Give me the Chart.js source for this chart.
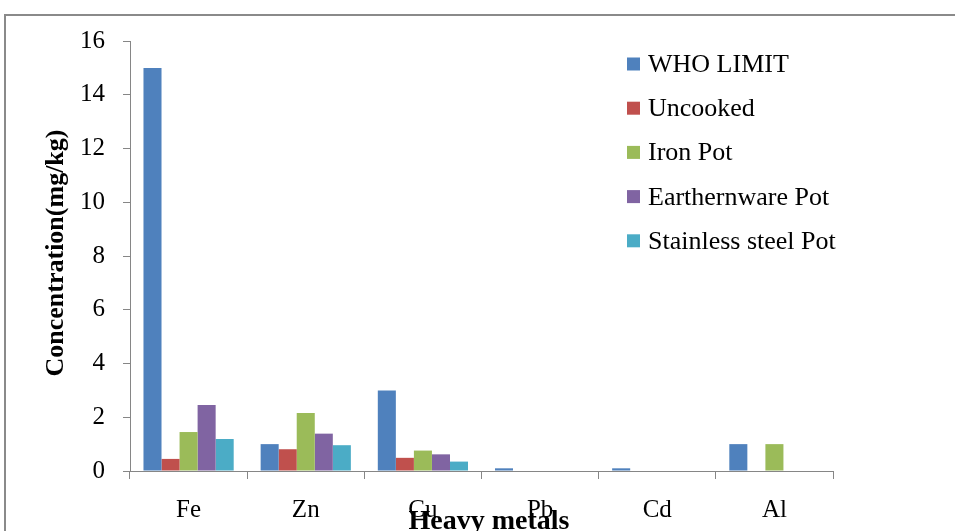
<!DOCTYPE html>
<html>
<head>
<meta charset="utf-8">
<script src="https://cdn.jsdelivr.net/npm/chart.js@4.4.0/dist/chart.umd.min.js"></script>
<style>
  html, body { margin: 0; padding: 0; background: #fff; }
  #wrap { width: 955px; height: 531px; position: relative; }
</style>
</head>
<body>
<div id="wrap"><canvas id="metalChart" width="955" height="531"></canvas></div>
<script>
// heavy metal concentrations (mg/kg)
const metals = ['Fe', 'Zn', 'Cu', 'Pb', 'Cd', 'Al'];
const whoLimit = [15, 1.0, 3.0, 0.1, 0.1, 1.0];
const uncooked = [0.45, 0.81, 0.49, 0, 0, 0];
const ironPot = [1.45, 2.16, 0.76, 0, 0, 1.0];
const earthenwarePot = [2.46, 1.39, 0.62, 0, 0, 0];
const stainlessPot = [1.19, 0.96, 0.35, 0, 0, 0];

const seriesNames = ['WHO LIMIT', 'Uncooked', 'Iron Pot', 'Earthernware Pot', 'Stainless steel Pot'];
const seriesColors = ['#4F81BD', '#C0504D', '#9BBB59', '#8064A2', '#4BACC6'];
const yMax = 16, yStep = 2;

const serif = "'Liberation Serif', 'Times New Roman', serif";
const axisGray = '#868686';

// frame, axis titles and the legend drawn over the plot
const decorPlugin = {
  id: 'decor',
  afterDraw(chart) {
    const ctx = chart.ctx;
    ctx.save();

    // outer frame (only top and left edges are in view)
    ctx.strokeStyle = '#8a8a8a';
    ctx.lineWidth = 2;
    ctx.beginPath();
    ctx.moveTo(5, 540);
    ctx.lineTo(5, 15);
    ctx.lineTo(960, 15);
    ctx.stroke();

    ctx.fillStyle = '#000';
    ctx.textAlign = 'center';
    ctx.textBaseline = 'alphabetic';

    // y axis title
    ctx.font = 'bold 26px ' + serif;
    ctx.save();
    ctx.translate(63, 253);
    ctx.rotate(-Math.PI / 2);
    ctx.fillText('Concentration(mg/kg)', 0, 0);
    ctx.restore();

    // x axis title, sits low and overlaps the category labels
    ctx.font = 'bold 28px ' + serif;
    ctx.fillText('Heavy metals', 489, 529);

    // legend
    ctx.font = '26px ' + serif;
    ctx.textAlign = 'left';
    chart.data.datasets.forEach((ds, i) => {
      const cy = 64 + i * 44.2;
      ctx.fillStyle = ds.backgroundColor;
      ctx.fillRect(627, cy - 6.5, 13, 13);
      ctx.fillStyle = '#000';
      ctx.fillText(ds.label, 648, cy + 8);
    });

    ctx.restore();
  }
};

const seriesData = [whoLimit, uncooked, ironPot, earthenwarePot, stainlessPot];

new Chart(document.getElementById('metalChart'), {
  type: 'bar',
  data: {
    labels: metals,
    datasets: seriesData.map((vals, i) => ({
      label: seriesNames[i],
      data: vals,
      backgroundColor: seriesColors[i],
      borderWidth: 0,
      categoryPercentage: 0.77,
      barPercentage: 1.0
    }))
  },
  options: {
    responsive: false,
    animation: false,
    devicePixelRatio: 1,
    layout: { padding: { left: 62, right: 122, top: 41, bottom: -10 } },
    plugins: {
      legend: { display: false },
      tooltip: { enabled: false }
    },
    scales: {
      x: {
        grid: {
          display: true,
          drawOnChartArea: false,
          drawTicks: true,
          tickLength: 8,
          color: axisGray,
          offset: true
        },
        border: { color: axisGray, width: 1 },
        ticks: {
          color: '#000',
          font: { family: serif, size: 25 },
          padding: 16,
          maxRotation: 0
        }
      },
      y: {
        min: 0,
        max: yMax,
        grid: {
          display: true,
          drawOnChartArea: false,
          drawTicks: true,
          tickLength: 7,
          color: axisGray
        },
        border: { color: axisGray, width: 1 },
        ticks: {
          stepSize: yStep,
          color: '#000',
          font: { family: serif, size: 25 },
          padding: 18
        }
      }
    }
  },
  plugins: [decorPlugin]
});
</script>
</body>
</html>
